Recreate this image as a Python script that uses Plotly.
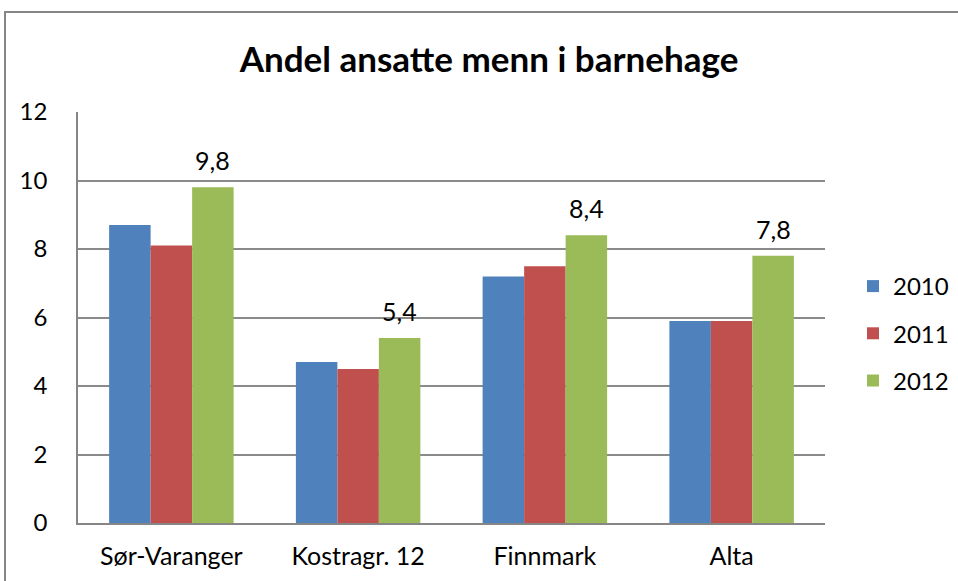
import plotly.graph_objects as go

categories = ["Sør-Varanger", "Kostragr. 12", "Finnmark", "Alta"]
years = ["2010", "2011", "2012"]
v2010 = [8.7, 4.7, 7.2, 5.9]
v2011 = [8.1, 4.5, 7.5, 5.9]
v2012 = [9.8, 5.4, 8.4, 7.8]
colors = ["#4F81BD", "#C0504D", "#9BBB59"]

FONT = "Lato, Open Sans, sans-serif"

fig = go.Figure()
for i, (yr, vals) in enumerate(zip(years, [v2010, v2011, v2012])):
    fig.add_trace(go.Bar(
        x=categories, y=vals, name=yr, legendgroup=yr,
        marker=dict(color=colors[i], line=dict(width=0)),
    ))

L, R, T, B = 78, 133, 112, 58
W, H = 958, 581
pw, ph = W - L - R, H - T - B
bar_w_px = pw / len(categories) / 4.5

annotations = []
for c, v in zip(categories, v2012):
    annotations.append(dict(
        x=c, y=v, xref="x", yref="y", text=f"{v:.1f}".replace(".", ","),
        showarrow=False, xanchor="center", yanchor="bottom",
        xshift=bar_w_px, yshift=10,
        font=dict(size=25, family=FONT, color="#000000")))

fig.update_layout(
    width=W, height=H,
    margin=dict(l=L, r=R, t=T, b=B, autoexpand=False),
    paper_bgcolor="white", plot_bgcolor="white",
    barmode="group", bargap=1.5 / 4.5, bargroupgap=0,
    title=dict(text="<b>Andel ansatte menn i barnehage</b>", x=489 / W, xanchor="center",
               y=1 - 60 / H, yanchor="middle",
               font=dict(size=35, family=FONT, color="#000000")),
    font=dict(family=FONT, size=25, color="#000000"),
    showlegend=True,
    legend=dict(x=(853 - L) / pw, xanchor="left", y=(523 - 264) / ph, yanchor="top",
                font=dict(size=24, family=FONT, color="#000000"),
                tracegroupgap=13, itemwidth=30, bgcolor="rgba(0,0,0,0)"),
    xaxis=dict(showline=True, linecolor="#868686", linewidth=1.5, ticks="",
               ticklabelstandoff=10,
               tickfont=dict(size=25, family=FONT, color="#000000"), showgrid=False),
    yaxis=dict(range=[0, 12], dtick=2, showgrid=True, gridcolor="#8a8a8a", gridwidth=1.5,
               showline=True, linecolor="#868686", linewidth=1.5, ticks="",
               ticklabelstandoff=24, zeroline=False,
               tickfont=dict(size=24, family=FONT, color="#000000")),
    annotations=annotations,
    shapes=[dict(type="rect", xref="paper", yref="paper",
                 x0=(5 - L) / pw, x1=(W + 20 - L) / pw,
                 y0=(523 - (H + 20)) / ph, y1=(523 - 12) / ph,
                 line=dict(color="#868686", width=2), fillcolor="rgba(0,0,0,0)", layer="below")],
)

fig.write_html("out.html", config={"displayModeBar": False},
               post_script="document.body.style.margin='0';document.body.style.overflow='hidden';")
